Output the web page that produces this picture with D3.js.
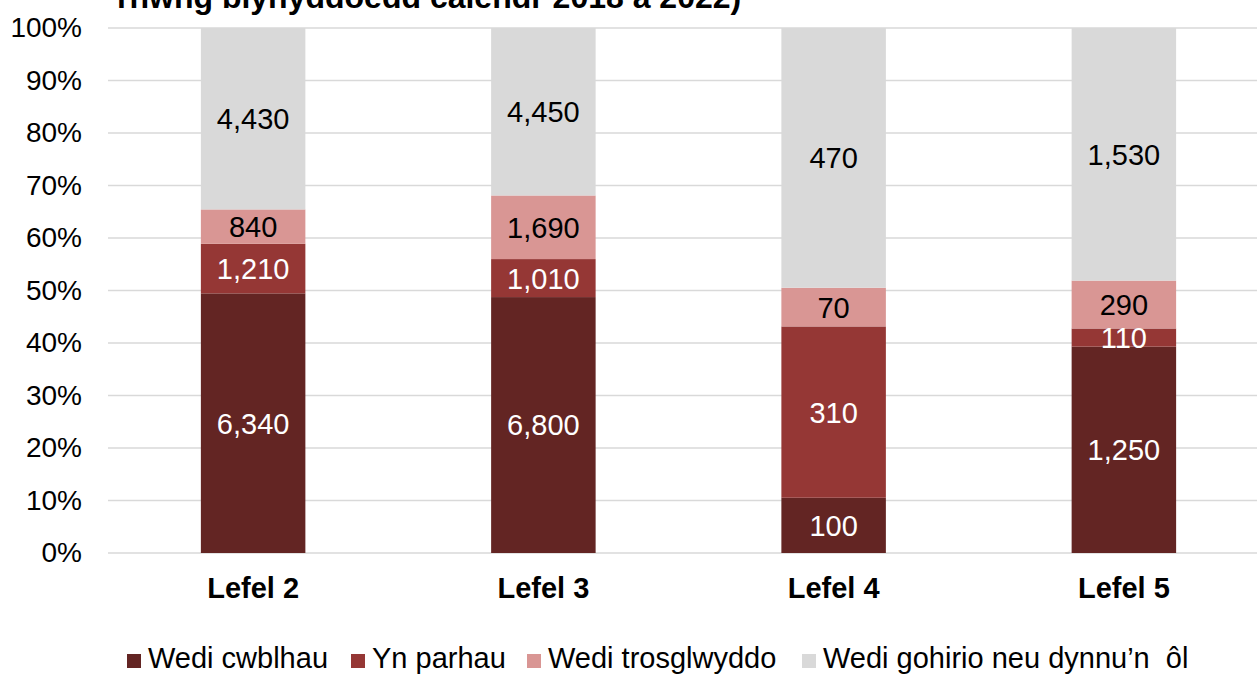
<!DOCTYPE html>
<html>
<head>
<meta charset="utf-8">
<script src="https://cdn.jsdelivr.net/npm/d3@7"></script>
<style>
  body { margin: 0; background: #fff; }
  svg { display: block; font-family: "Liberation Sans", Arial, sans-serif; }
</style>
</head>
<body>
<div id="chart"></div>
<script>
// chart data
var levels = ["Lefel 2", "Lefel 3", "Lefel 4", "Lefel 5"];
var seriesNames = ["Wedi cwblhau", "Yn parhau", "Wedi trosglwyddo", "Wedi gohirio neu dynnu\u2019n  \u00f4l"];
var completed = [6340, 6800, 100, 1250];
var continuing = [1210, 1010, 310, 110];
var transferred = [840, 1690, 70, 290];
var withdrawn = [4430, 4450, 470, 1530];
var yTicks = [0, 0.1, 0.2, 0.3, 0.4, 0.5, 0.6, 0.7, 0.8, 0.9, 1];

var colours = ["#632523", "#953735", "#d99694", "#d9d9d9"];
var labelColours = ["#fff", "#fff", "#000", "#000"];

var width = 1257, height = 677;
var margin = { top: 28, left: 108, bottom: 124 };
var plotRight = 1269;

var svg = d3.select("#chart").append("svg")
    .attr("width", width)
    .attr("height", height);

// build rows for the stack
var keys = ["a", "b", "c", "d"];
var rows = levels.map(function (l, i) {
  return { level: l, a: completed[i], b: continuing[i], c: transferred[i], d: withdrawn[i] };
});
var stacked = d3.stack().keys(keys).offset(d3.stackOffsetExpand)(rows);

var x = d3.scaleBand()
    .domain(levels)
    .range([margin.left, plotRight])
    .paddingInner(0.64)
    .paddingOuter(0.32);

var y = d3.scaleLinear()
    .domain([0, 1])
    .range([height - margin.bottom, margin.top]);

// title (the top of it is cut off in the original)
svg.append("text")
    .attr("x", 117)
    .attr("y", 8)
    .style("font-weight", "bold")
    .style("font-size", "32px")
    .text("rhwng blynyddoedd calendr 2018 a 2022)");

// gridlines
svg.append("g")
  .selectAll("line")
  .data(yTicks)
  .enter()
  .append("line")
    .attr("x1", margin.left)
    .attr("x2", width)
    .attr("y1", function (d) { return y(d); })
    .attr("y2", function (d) { return y(d); })
    .attr("stroke", "#d9d9d9")
    .attr("stroke-width", 1.5);

// y axis
var yAxis = svg.append("g")
    .attr("transform", "translate(" + (margin.left - 26) + ",0)")
    .call(d3.axisLeft(y).tickValues(yTicks).tickFormat(d3.format(".0%")).tickSize(0).tickPadding(0));
yAxis.select(".domain").remove();
yAxis.selectAll("text")
    .style("font-size", "28px")
    .style("font-family", "'Liberation Sans', Arial, sans-serif")
    .attr("fill", "#000");

// bars
var layers = svg.append("g")
  .selectAll("g")
  .data(stacked)
  .enter()
  .append("g")
    .attr("fill", function (d, i) { return colours[i]; });

layers.selectAll("rect")
  .data(function (d) { return d; })
  .enter()
  .append("rect")
    .attr("x", function (d) { return x(d.data.level); })
    .attr("width", x.bandwidth())
    .attr("y", function (d) { return y(d[1]); })
    .attr("height", function (d) { return y(d[0]) - y(d[1]); });

// value labels
stacked.forEach(function (layer, i) {
  svg.append("g")
    .selectAll("text")
    .data(layer)
    .enter()
    .append("text")
      .attr("x", function (d) { return x(d.data.level) + x.bandwidth() / 2; })
      .attr("y", function (d) { return y((d[0] + d[1]) / 2); })
      .attr("dy", "0.36em")
      .attr("text-anchor", "middle")
      .attr("fill", labelColours[i])
      .style("font-size", "29px")
      .text(function (d) { return d3.format(",")(d.data[layer.key]); });
});

// category labels
svg.append("g")
  .selectAll("text")
  .data(levels)
  .enter()
  .append("text")
    .attr("x", function (d) { return x(d) + x.bandwidth() / 2; })
    .attr("y", 598)
    .attr("text-anchor", "middle")
    .style("font-weight", "bold")
    .style("font-size", "29px")
    .text(function (d) { return d; });

// legend
var legendX = [127, 351, 527, 802];
var legend = svg.append("g")
  .selectAll("g")
  .data(seriesNames)
  .enter()
  .append("g")
    .attr("transform", function (d, i) { return "translate(" + legendX[i] + ",661)"; });

legend.append("rect")
    .attr("x", 0)
    .attr("y", -7)
    .attr("width", 14)
    .attr("height", 14)
    .attr("fill", function (d, i) { return colours[i]; });

legend.append("text")
    .attr("x", 21)
    .attr("y", 7)
    .style("font-size", "29px")
    .style("white-space", "pre")
    .text(function (d) { return d; });
</script>
</body>
</html>
